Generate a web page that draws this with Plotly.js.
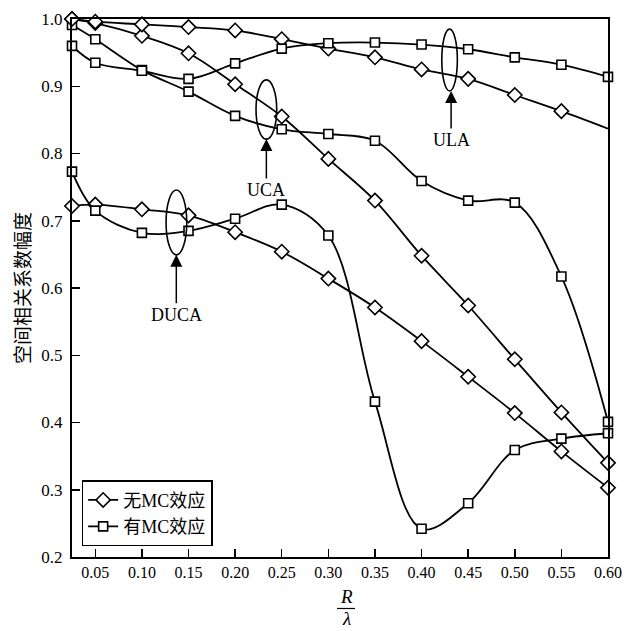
<!DOCTYPE html>
<html>
<head>
<meta charset="utf-8">
<script src="https://cdn.plot.ly/plotly-3.0.1.min.js"></script>
<style>html,body{margin:0;padding:0;background:#fff}#chart{width:637px;height:631px}</style>
</head>
<body>
<div id="chart"></div>
<script>
// R/λ sample points
const xVals = [0.025, 0.05, 0.10, 0.15, 0.20, 0.25, 0.30, 0.35, 0.40, 0.45, 0.50, 0.55, 0.60];
const xTickVals = [0.05, 0.10, 0.15, 0.20, 0.25, 0.30, 0.35, 0.40, 0.45, 0.50, 0.55, 0.60];
const xTickText = ["0.05","0.10","0.15","0.20","0.25","0.30","0.35","0.40","0.45","0.50","0.55","0.60"];
const yTickVals = [0.2, 0.3, 0.4, 0.5, 0.6, 0.7, 0.8, 0.9, 1.0];
const yTickText = ["0.2","0.3","0.4","0.5","0.6","0.7","0.8","0.9","1.0"];

// 无MC效应 (no mutual coupling)
const ulaNoMC  = [1.000, 0.996, 0.992, 0.988, 0.983, 0.970, 0.956, 0.943, 0.925, 0.911, 0.887, 0.863, 0.837];
const ucaNoMC  = [1.000, 0.994, 0.975, 0.949, 0.903, 0.855, 0.792, 0.730, 0.648, 0.574, 0.494, 0.415, 0.340];
const ducaNoMC = [0.722, 0.724, 0.717, 0.708, 0.683, 0.654, 0.614, 0.571, 0.521, 0.468, 0.414, 0.357, 0.303];
// 有MC效应 (with mutual coupling)
const ulaMC  = [0.960, 0.935, 0.923, 0.911, 0.934, 0.956, 0.964, 0.965, 0.962, 0.955, 0.943, 0.932, 0.914];
const ucaMC  = [0.991, 0.970, 0.924, 0.892, 0.856, 0.836, 0.829, 0.819, 0.759, 0.730, 0.727, 0.617, 0.401];
const ducaMC = [0.773, 0.715, 0.682, 0.685, 0.703, 0.724, 0.678, 0.431, 0.242, 0.280, 0.359, 0.376, 0.384];

const seriesNames = ["无MC效应", "有MC效应"];
const arrayLabels = ["ULA", "UCA", "DUCA"];

const serif = "Liberation Serif, Times New Roman, serif";
const cjk = "Liberation Serif, Noto Sans CJK SC, serif";

const lineStyle = {color: "#000", width: 1.8, shape: "spline", smoothing: 1};
const diamondMarker = {symbol: "diamond", size: 11, color: "#fff", line: {color: "#000", width: 1.6}};
const squareMarker = {symbol: "square", size: 9, color: "#fff", line: {color: "#000", width: 1.6}};

function diamondTrace(y, show) {
  return {
    x: xVals, y: y, type: "scatter", mode: "lines+markers",
    name: seriesNames[0], showlegend: show, legendrank: 1,
    line: lineStyle, marker: diamondMarker, cliponaxis: false
  };
}
function squareTrace(y, show) {
  return {
    x: xVals, y: y, type: "scatter", mode: "lines+markers",
    name: seriesNames[1], showlegend: show, legendrank: 2,
    line: lineStyle, marker: squareMarker, cliponaxis: false
  };
}

// ULA without MC: line reaches 0.60 but the last point has no marker
const nMarked = xVals.length - 1;
const data = [
  diamondTrace(ucaNoMC, true),
  squareTrace(ucaMC, true),
  {x: xVals, y: ulaNoMC, type: "scatter", mode: "lines", showlegend: false,
   line: lineStyle, cliponaxis: false},
  {x: xVals.slice(0, nMarked), y: ulaNoMC.slice(0, nMarked), type: "scatter", mode: "markers",
   showlegend: false, marker: diamondMarker, cliponaxis: false},
  squareTrace(ulaMC, false),
  diamondTrace(ducaNoMC, false),
  squareTrace(ducaMC, false)
];

const ellipse = (x0, x1, y0, y1) => ({
  type: "circle", xref: "x", yref: "y", x0: x0, x1: x1, y0: y0, y1: y1,
  line: {color: "#000", width: 1.6}
});

const arrowNote = (text, x, y, ay) => ({
  text: text, x: x, y: y, xref: "x", yref: "y", ax: 0, ay: ay,
  showarrow: true, arrowhead: 2, arrowsize: 1.6, arrowwidth: 1.5, arrowcolor: "#000",
  font: {family: serif, size: 18, color: "#000"}
});

const layout = {
  width: 637, height: 631,
  margin: {l: 72, r: 29, t: 19, b: 74},
  paper_bgcolor: "#fff", plot_bgcolor: "#fff",
  showlegend: true,
  xaxis: {
    range: [0.025, 0.6], tickvals: xTickVals, ticktext: xTickText,
    ticks: "inside", ticklen: 8, tickwidth: 1.5, tickcolor: "#000",
    showline: true, linewidth: 2, linecolor: "#000", mirror: true,
    showgrid: false, zeroline: false,
    tickfont: {family: serif, size: 16, color: "#000"}
  },
  yaxis: {
    range: [0.2, 1.0], tickvals: yTickVals, ticktext: yTickText,
    ticks: "inside", ticklen: 8, tickwidth: 1.5, tickcolor: "#000",
    showline: true, linewidth: 2, linecolor: "#000", mirror: true,
    showgrid: false, zeroline: false, ticklabelstandoff: 4,
    tickfont: {family: serif, size: 17, color: "#000"}
  },
  legend: {
    x: 0.018, y: 0.02, xanchor: "left", yanchor: "bottom",
    bgcolor: "#fff", bordercolor: "#000", borderwidth: 1.5,
    font: {family: cjk, size: 18, color: "#000"},
    tracegroupgap: 0, itemwidth: 30
  },
  shapes: [
    ellipse(0.4217, 0.4384, 0.985, 0.893),
    ellipse(0.2224, 0.2446, 0.9095, 0.8214),
    ellipse(0.1259, 0.1481, 0.7458, 0.6493),
    {type: "line", xref: "paper", yref: "paper", x0: 0.4944, x1: 0.528, y0: -0.0957, y1: -0.0957,
     line: {color: "#000", width: 1.2}}
  ],
  annotations: [
    arrowNote(arrayLabels[0], 0.4317, 0.893, 49),
    arrowNote(arrayLabels[1], 0.2335, 0.8214, 51),
    arrowNote(arrayLabels[2], 0.1369, 0.6493, 60),
    {text: "<i>R</i>", xref: "paper", yref: "paper", x: 0.5112, y: -0.0725,
     xanchor: "center", yanchor: "middle", showarrow: false,
     font: {family: serif, size: 19, color: "#000"}},
    {text: "<i>λ</i>", xref: "paper", yref: "paper", x: 0.5112, y: -0.1152,
     xanchor: "center", yanchor: "middle", showarrow: false,
     font: {family: serif, size: 19, color: "#000"}},
    {text: "空间相关系数幅度", xref: "paper", yref: "paper", x: -0.095, y: 0.5,
     xanchor: "center", yanchor: "middle", textangle: -90, showarrow: false,
     font: {family: "Noto Sans CJK SC, sans-serif", size: 19, color: "#000"}}
  ]
};

Plotly.newPlot("chart", data, layout, {displayModeBar: false, staticPlot: true});
</script>
</body>
</html>
